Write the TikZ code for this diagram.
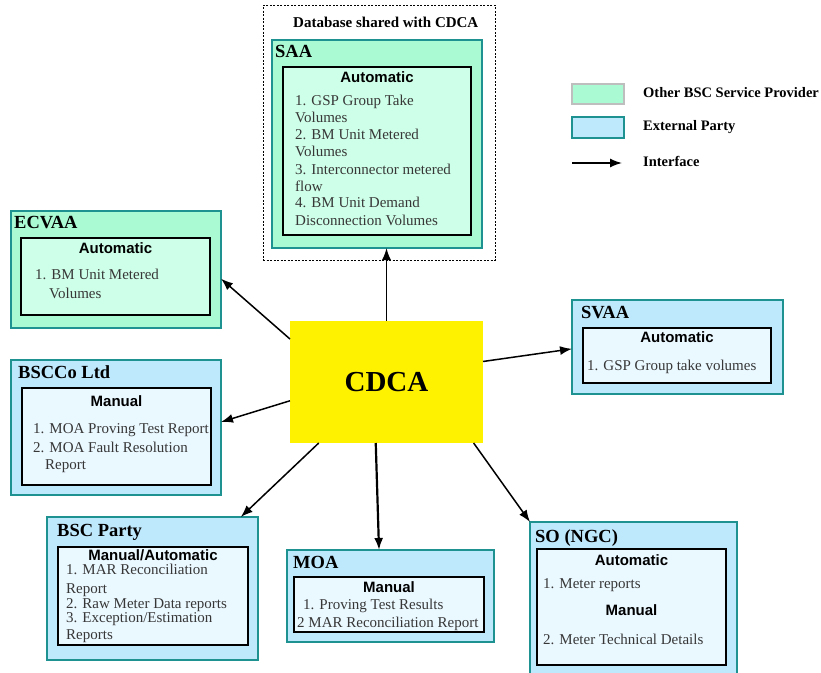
\documentclass[tikz,border=0pt]{standalone}
\usepackage{fontspec}
\setmainfont{Liberation Serif}
\newfontfamily\hsans{Liberation Sans}
\usetikzlibrary{arrows.meta,calc}
\definecolor{gfill}{RGB}{170,250,212}
\definecolor{ginner}{RGB}{206,255,232}
\definecolor{bfill}{RGB}{190,232,252}
\definecolor{binner}{RGB}{234,248,255}
\definecolor{tealb}{RGB}{30,145,145}
\definecolor{itemgray}{RGB}{55,55,55}
\definecolor{legborder}{RGB}{190,190,190}
\tikzset{
  box/.style={inner sep=0, outer sep=0, anchor=north west, line width=1.5pt},
  outerg/.style={box, draw=tealb, fill=gfill},
  outerb/.style={box, draw=tealb, fill=bfill},
  innerg/.style={box, draw=black, fill=ginner},
  innerb/.style={box, draw=black, fill=binner},
  ttl/.style={anchor=base west, inner sep=0, font=\bfseries\fontsize{18.5}{20}\selectfont},
  hdr/.style={anchor=base, inner sep=0, font=\hsans\bfseries\fontsize{15}{17}\selectfont},
  itm/.style={anchor=base west, inner sep=0, text=itemgray, font=\fontsize{15}{17}\selectfont},
  leg/.style={anchor=base west, inner sep=0, font=\bfseries\fontsize{14.5}{16}\selectfont},
  arr/.style={line width=1.5pt, -{Latex[length=12pt,width=9pt]}},
}
\begin{document}
\begin{tikzpicture}[x=1pt,y=-1pt]
\path[use as bounding box, clip] (0,0) rectangle (821,672);

% dashed database box
\node[box, draw=black, line width=1pt, dash pattern=on 2pt off 1.5pt, minimum width=232, minimum height=255] (dbox) at (263,5) {};
\node[anchor=base west, inner sep=0, font=\bfseries\fontsize{15}{17}\selectfont] (dbt) at (293,27) {Database shared with CDCA};

% SAA
\node[outerg, minimum width=210, minimum height=208] (saa) at (272,40) {};
\node[innerg, minimum width=188, minimum height=168] (saai) at (283,67) {};
\node[ttl] (saat) at (275,57) {SAA};
\node[hdr] (saah) at (377,82) {Automatic};
\node[itm] (saa1) at (295,105) {1. GSP Group Take};
\node[itm] (saa2) at (295,122) {Volumes};
\node[itm] (saa3) at (295,139) {2. BM Unit Metered};
\node[itm] (saa4) at (295,156) {Volumes};
\node[itm] (saa5) at (295,174) {3. Interconnector metered};
\node[itm] (saa6) at (295,191) {flow};
\node[itm] (saa7) at (295,207) {4. BM Unit Demand};
\node[itm] (saa8) at (295,225) {Disconnection Volumes};

% Legend
\node[box, draw=legborder, fill=gfill, minimum width=52, minimum height=20] (lg1) at (572,84) {};
\node[leg] (lt1) at (643,97) {Other BSC Service Provider};
\node[box, draw=tealb, fill=bfill, minimum width=52, minimum height=21] (lg2) at (572,117) {};
\node[leg] (lt2) at (643,130) {External Party};
\coordinate (la) at (572,163);
\coordinate (lb) at (622,163);
\draw[arr] (la) -- (lb);
\node[leg] (lt3) at (643,166) {Interface};

% ECVAA
\node[outerg, minimum width=210, minimum height=117] (ecvaa) at (11,211) {};
\node[innerg, minimum width=189, minimum height=77] (ecvaai) at (21,238) {};
\node[ttl] (ecvaat) at (14,228) {ECVAA};
\node[hdr] (ecvaah) at (115.5,253) {Automatic};
\node[itm] (ecvaa1) at (35,279) {1. BM Unit Metered};
\node[itm] (ecvaa2) at (49,298) {Volumes};

% BSCCo Ltd
\node[outerb, minimum width=210, minimum height=135] (bscco) at (11,360) {};
\node[innerb, minimum width=189, minimum height=97] (bsccoi) at (22,388) {};
\node[ttl] (bsccot) at (18,378) {BSCCo Ltd};
\node[hdr] (bsccoh) at (116.5,406) {Manual};
\node[itm] (bscco1) at (33,433) {1. MOA Proving Test Report};
\node[itm] (bscco2) at (33,452) {2. MOA Fault Resolution};
\node[itm] (bscco3) at (45,469) {Report};

% BSC Party
\node[outerb, minimum width=211, minimum height=143] (party) at (47,517) {};
\node[innerb, minimum width=190, minimum height=98] (partyi) at (58,547) {};
\node[ttl] (partyt) at (57,536) {BSC Party};
\node[hdr] (partyh) at (153,560) {Manual/Automatic};
\node[itm] (party1) at (66,574) {1. MAR Reconciliation};
\node[itm] (party2) at (66,593) {Report};
\node[itm] (party3) at (66,608) {2. Raw Meter Data reports};
\node[itm] (party4) at (66,622) {3. Exception/Estimation};
\node[itm] (party5) at (66,639) {Reports};

% MOA
\node[outerb, minimum width=207, minimum height=92] (moa) at (287,550) {};
\node[innerb, minimum width=190, minimum height=55] (moai) at (294,577) {};
\node[ttl] (moat) at (293,568) {MOA};
\node[hdr] (moah) at (389,592) {Manual};
\node[itm] (moa1) at (303,609) {1. Proving Test Results};
\node[itm] (moa2) at (297,627) {2 MAR Reconciliation Report};

% SO (NGC)
\node[outerb, minimum width=207, minimum height=170] (so) at (530,522) {};
\node[innerb, minimum width=189, minimum height=116] (soi) at (537,549) {};
\node[ttl] (sot) at (535,542) {SO (NGC)};
\node[hdr] (soh1) at (631.5,565) {Automatic};
\node[itm] (so1) at (543,588) {1. Meter reports};
\node[hdr] (soh2) at (631.5,615) {Manual};
\node[itm] (so2) at (543,644) {2. Meter Technical Details};

% SVAA
\node[outerb, minimum width=211, minimum height=94] (svaa) at (572,300) {};
\node[innerb, minimum width=188, minimum height=55] (svaai) at (583,328) {};
\node[ttl] (svaat) at (581,318) {SVAA};
\node[hdr] (svaah) at (677,342) {Automatic};
\node[itm] (svaa1) at (587,370) {1. GSP Group take volumes};

% CDCA
\node[box, fill=yellow, minimum width=193, minimum height=122] (cdca) at (290,321) {};
\node[inner sep=0, font=\bfseries\fontsize{29}{31}\selectfont] (cdcat) at (cdca.center) {CDCA};

% connectors
\draw[arr] (cdca.north) -- (cdca.north |- saa.south);
\draw[arr] (cdca.156.8) -- (ecvaa.-5.7);
\draw[arr] (cdca.-169.4) -- (bscco.3.3);
\draw[arr] (cdca.-138.3) -- (party.39);
\draw[arr, line width=2.2pt] (cdca.-100.7) -- (moa.104);
\draw[arr] (cdca.-35.8) -- (so.north west);
\draw[arr] (cdca.12.8) -- (svaa.181.6);
\end{tikzpicture}
\end{document}
